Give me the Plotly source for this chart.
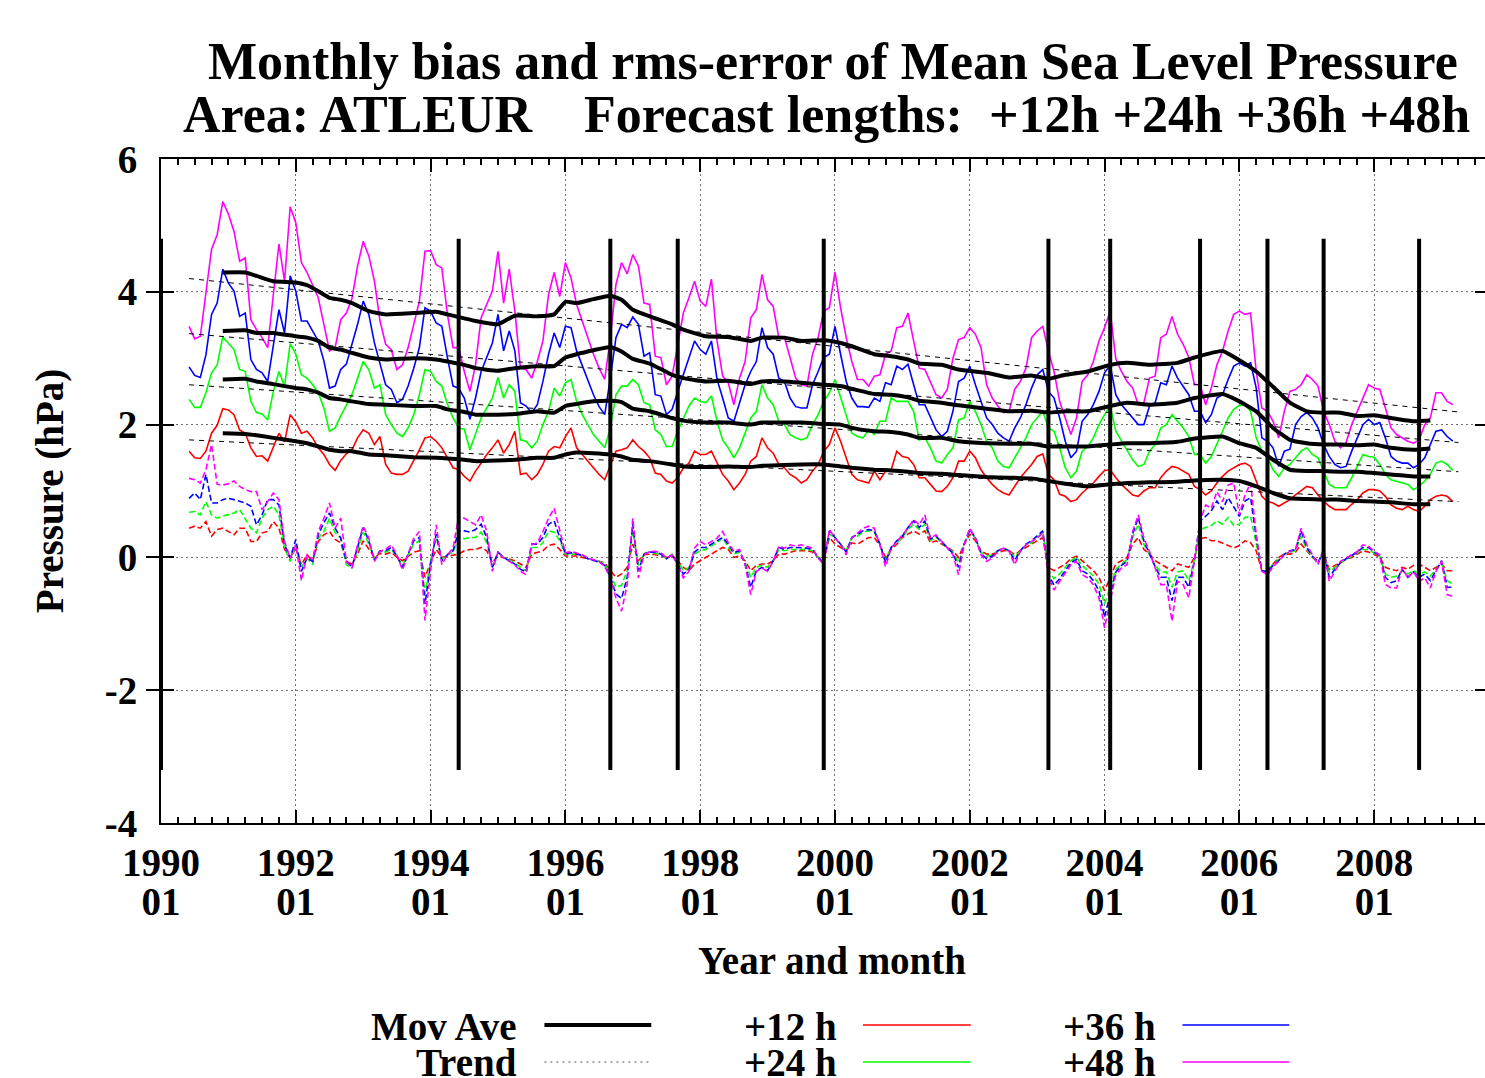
import plotly.graph_objects as go

# ---------------- data ----------------
FIRST_MONTH = "1990-06"   # first month of the monthly series

rms12 = [1.60, 1.50, 1.49, 1.60, 1.87, 1.99, 2.24, 2.22, 2.15, 1.92, 1.87, 1.65, 1.52, 1.53, 1.45, 1.65, 1.87, 1.74, 2.15, 2.04, 1.87, 1.90, 1.80, 1.65, 1.55, 1.40, 1.31, 1.46, 1.56, 1.62,
         1.80, 1.92, 1.87, 1.70, 1.82, 1.40, 1.27, 1.25, 1.25, 1.30, 1.45, 1.62, 1.80, 1.82, 1.75, 1.65, 1.50, 1.35, 1.32, 1.22, 1.15, 1.30, 1.42, 1.55, 1.65, 1.77, 1.57, 1.70, 1.90, 1.25, 1.27, 1.17, 1.25, 1.40,
         1.60, 1.67, 1.65, 1.82, 1.95, 1.65, 1.55, 1.45, 1.35, 1.25, 1.17, 1.40, 1.60, 1.62, 1.65, 1.77, 1.67, 1.60, 1.50, 1.27, 1.25, 1.15, 1.12, 1.20, 1.35, 1.42, 1.60, 1.55, 1.55, 1.60, 1.42, 1.25, 1.15,
         1.02, 1.12, 1.25, 1.45, 1.52, 1.80, 1.65, 1.57, 1.40, 1.35, 1.25, 1.20, 1.12, 1.17, 1.30, 1.40, 1.60, 1.70, 1.95, 1.75, 1.50, 1.25, 1.17, 1.15, 1.12, 1.30, 1.17, 1.30, 1.32, 1.60, 1.52, 1.50, 1.40, 1.20,
         1.20, 1.10, 1.00, 0.99, 1.07, 1.20, 1.45, 1.45, 1.60, 1.50, 1.32, 1.20, 1.10, 1.02, 0.97, 0.94, 1.07, 1.20, 1.30, 1.40, 1.52, 1.56, 1.25, 1.17, 0.95, 0.92, 0.84, 0.87, 0.97, 1.04, 1.12, 1.22, 1.31, 1.32,
         1.20, 1.10, 1.02, 0.94, 0.92, 1.00, 1.05, 1.05, 1.20, 1.30, 1.37, 1.35, 1.30, 1.25, 1.07, 1.02, 0.94, 1.00, 1.12, 1.22, 1.30, 1.35, 1.40, 1.42, 1.37, 1.15, 0.92, 0.84, 0.82, 0.77, 0.82, 0.87, 0.94, 1.00,
         1.07, 1.05, 0.94, 0.85, 0.77, 0.72, 0.72, 0.72, 0.80, 0.87, 0.97, 1.02, 1.02, 1.00, 0.92, 0.79, 0.74, 0.72, 0.77, 0.72, 0.69, 0.77, 0.87, 0.92, 0.94, 0.92, 0.84]

rms24 = [2.38, 2.26, 2.26, 2.48, 2.78, 2.90, 3.32, 3.22, 3.13, 2.83, 2.80, 2.35, 2.18, 2.16, 2.07, 2.50, 2.80, 2.58, 3.22, 3.06, 2.75, 2.70, 2.60, 2.48, 2.25, 1.90, 1.95, 2.13, 2.28, 2.45,
         2.70, 2.95, 2.83, 2.55, 2.60, 2.15, 2.00, 1.87, 1.82, 1.95, 2.15, 2.45, 2.83, 2.80, 2.65, 2.58, 2.31, 2.10, 1.95, 1.93, 1.62, 1.85, 2.10, 2.25, 2.40, 2.71, 2.40, 2.60, 2.50, 1.77, 1.75, 1.65, 1.75, 2.00,
         2.20, 2.55, 2.43, 2.63, 2.68, 2.35, 2.15, 2.00, 1.85, 1.75, 1.65, 1.95, 2.45, 2.58, 2.58, 2.68, 2.60, 2.33, 2.30, 1.92, 1.85, 1.67, 1.67, 1.90, 2.10, 2.28, 2.40, 2.35, 2.33, 2.43, 2.05, 1.77, 1.65,
         1.50, 1.65, 1.87, 2.10, 2.20, 2.60, 2.40, 2.30, 2.05, 2.00, 1.85, 1.80, 1.77, 1.80, 2.00, 2.15, 2.35, 2.48, 2.68, 2.40, 2.15, 1.87, 1.82, 1.80, 1.92, 1.85, 2.05, 2.05, 2.40, 2.35, 2.35, 2.35, 2.20, 1.77,
         1.80, 1.65, 1.45, 1.42, 1.55, 1.65, 2.07, 2.10, 2.35, 2.20, 2.00, 1.75, 1.65, 1.45, 1.37, 1.35, 1.50, 1.65, 1.80, 2.00, 2.10, 2.20, 1.95, 1.90, 1.65, 1.35, 1.20, 1.30, 1.60, 1.67, 1.80, 2.00, 2.15, 2.28,
         1.90, 1.75, 1.60, 1.47, 1.37, 1.40, 1.60, 1.70, 1.95, 2.00, 2.15, 2.05, 1.95, 1.82, 1.55, 1.55, 1.42, 1.52, 1.70, 1.90, 2.10, 2.23, 2.29, 2.30, 2.20, 1.80, 1.60, 1.50, 1.32, 1.22, 1.35, 1.40, 1.50, 1.60,
         1.65, 1.55, 1.50, 1.30, 1.10, 1.05, 1.05, 1.05, 1.20, 1.37, 1.55, 1.52, 1.51, 1.40, 1.25, 1.17, 1.15, 1.12, 1.10, 1.02, 1.07, 1.15, 1.25, 1.42, 1.45, 1.40, 1.31]

rms36 = [2.87, 2.74, 2.71, 3.05, 3.66, 3.83, 4.34, 4.13, 4.01, 3.63, 3.68, 2.98, 2.83, 2.78, 2.65, 3.21, 3.73, 3.38, 4.24, 4.01, 3.56, 3.56, 3.41, 3.26, 2.96, 2.55, 2.58, 2.83, 2.91, 3.20,
         3.51, 3.86, 3.66, 3.23, 2.90, 2.60, 2.53, 2.33, 2.38, 2.58, 2.85, 3.16, 3.76, 3.71, 3.53, 3.48, 3.01, 2.58, 2.55, 2.40, 2.08, 2.40, 2.80, 3.03, 3.23, 3.66, 3.11, 3.41, 3.11, 2.33, 2.28, 2.18, 2.30, 2.65,
         3.06, 3.38, 3.16, 3.48, 3.46, 3.11, 2.88, 2.65, 2.45, 2.27, 2.15, 2.70, 3.31, 3.51, 3.46, 3.62, 3.51, 3.03, 3.08, 2.45, 2.43, 2.15, 2.23, 2.50, 2.75, 3.03, 3.26, 3.13, 3.06, 3.26, 2.68, 2.40, 2.10,
         2.05, 2.33, 2.60, 2.80, 2.95, 3.46, 3.16, 3.06, 2.70, 2.65, 2.40, 2.27, 2.25, 2.25, 2.60, 2.80, 3.01, 3.06, 3.48, 3.06, 2.65, 2.40, 2.27, 2.27, 2.26, 2.40, 2.35, 2.63, 2.60, 2.88, 2.83, 2.91, 2.60, 2.30,
         2.30, 2.10, 1.92, 1.82, 1.90, 2.20, 2.65, 2.70, 2.88, 2.60, 2.35, 2.10, 2.00, 1.87, 1.80, 1.75, 1.95, 2.10, 2.30, 2.55, 2.75, 2.83, 2.50, 2.40, 2.10, 1.75, 1.50, 1.60, 2.05, 2.15, 2.30, 2.50, 2.78, 2.90,
         2.45, 2.30, 2.20, 2.10, 2.00, 2.00, 2.28, 2.33, 2.63, 2.60, 2.88, 2.70, 2.58, 2.45, 2.20, 2.20, 2.03, 2.15, 2.40, 2.45, 2.68, 2.88, 2.93, 2.88, 2.93, 2.55, 1.80, 1.75, 1.65, 1.37, 1.60, 1.63, 2.00, 2.12,
         2.18, 2.10, 1.95, 1.70, 1.52, 1.40, 1.35, 1.37, 1.60, 1.80, 2.00, 2.08, 2.00, 2.03, 1.80, 1.52, 1.45, 1.42, 1.42, 1.35, 1.40, 1.50, 1.70, 1.90, 1.92, 1.82, 1.75]

rms48 = [3.48, 3.29, 3.33, 4.01, 4.64, 4.86, 5.36, 5.17, 4.91, 4.46, 4.51, 3.58, 3.43, 3.31, 3.16, 3.96, 4.72, 4.16, 5.28, 5.04, 4.44, 4.29, 4.11, 3.91, 3.51, 3.11, 3.16, 3.58, 3.68, 3.90,
         4.39, 4.76, 4.54, 4.16, 3.56, 3.21, 3.13, 2.83, 2.90, 3.16, 3.51, 3.86, 4.61, 4.62, 4.41, 4.36, 3.66, 3.16, 3.16, 2.80, 2.50, 2.90, 3.61, 3.81, 4.01, 4.61, 3.83, 4.34, 3.71, 2.85, 2.83, 2.70, 2.95, 3.26,
         3.96, 4.29, 3.93, 4.44, 4.21, 3.81, 3.56, 3.31, 3.06, 2.85, 2.68, 3.30, 4.11, 4.44, 4.27, 4.56, 4.39, 3.83, 3.81, 3.03, 3.01, 2.60, 2.73, 3.20, 3.68, 3.91, 4.16, 3.86, 3.78, 4.19, 3.26, 2.73, 2.63,
         2.30, 2.70, 2.95, 3.61, 3.73, 4.26, 3.88, 3.78, 3.31, 3.31, 3.01, 2.70, 2.60, 2.58, 3.06, 3.31, 3.71, 3.76, 4.30, 3.76, 3.31, 2.95, 2.68, 2.68, 2.58, 2.73, 2.75, 3.06, 3.11, 3.46, 3.48, 3.68, 3.26, 2.85,
         2.83, 2.63, 2.45, 2.40, 2.53, 3.00, 3.28, 3.31, 3.46, 3.36, 3.16, 2.60, 2.40, 2.28, 2.18, 2.20, 2.53, 2.65, 2.85, 3.31, 3.41, 3.48, 3.11, 2.80, 2.35, 2.10, 1.85, 2.10, 2.65, 2.75, 2.95, 3.26, 3.46, 3.71,
         2.99, 2.80, 2.65, 2.55, 2.30, 2.33, 2.70, 2.73, 3.31, 3.36, 3.63, 3.36, 3.21, 3.01, 2.60, 2.60, 2.30, 2.55, 2.90, 3.11, 3.41, 3.66, 3.71, 3.66, 3.68, 2.80, 2.25, 2.20, 2.05, 1.80, 2.20, 2.50, 2.53, 2.60,
         2.75, 2.68, 2.58, 2.20, 2.00, 1.75, 1.65, 1.73, 2.00, 2.20, 2.40, 2.60, 2.55, 2.53, 2.25, 1.95, 1.85, 1.80, 1.75, 1.72, 1.77, 2.00, 2.10, 2.48, 2.48, 2.35, 2.30]

bias12 = [0.44, 0.47, 0.44, 0.54, 0.32, 0.42, 0.44, 0.39, 0.34, 0.44, 0.44, 0.24, 0.24, 0.37, 0.39, 0.54, 0.44, 0.12, -0.01, 0.14, -0.11, 0.04, -0.06, 0.24, 0.34, 0.39, 0.27, 0.22, -0.06, -0.10,
          0.05, 0.25, 0.12, 0.00, 0.06, 0.05, 0.08, 0.00, -0.05, 0.02, 0.08, 0.10, -0.30, -0.08, 0.12, 0.00, 0.02, 0.04, 0.05, 0.10, 0.12, 0.12, 0.15, 0.10, -0.08, 0.02, 0.00, -0.02, -0.05, -0.10, -0.15, 0.05, 0.08, 0.10,
          0.18, 0.20, 0.12, 0.02, 0.02, 0.02, 0.00, -0.02, -0.04, -0.05, -0.08, -0.20, -0.30, -0.25, -0.15, 0.20, -0.05, 0.04, 0.05, 0.04, 0.02, 0.00, 0.03, -0.05, -0.15, -0.20, -0.10, -0.05, 0.00, 0.05, 0.10, 0.15, 0.12,
          0.00, 0.02, -0.05, -0.20, -0.12, -0.10, -0.10, -0.05, 0.05, 0.05, 0.08, 0.10, 0.10, 0.10, 0.08, 0.00, -0.05, 0.30, 0.20, 0.15, 0.10, 0.22, 0.20, 0.25, 0.30, 0.30, 0.18, 0.00, 0.12, 0.20, 0.30, 0.35, 0.40, 0.35,
          0.40, 0.22, 0.25, 0.20, 0.15, 0.10, 0.00, 0.20, 0.35, 0.25, 0.10, 0.05, 0.05, 0.08, 0.10, 0.10, 0.04, 0.10, 0.15, 0.20, 0.25, 0.30, -0.15, -0.20, -0.15, -0.10, -0.02, 0.02, -0.05, -0.12, -0.20, -0.30, -0.50, -0.30,
          -0.10, -0.05, 0.00, 0.20, 0.30, 0.12, 0.05, -0.05, -0.10, -0.15, -0.20, -0.10, -0.12, -0.15, 0.00, 0.28, 0.30, 0.25, 0.25, 0.22, 0.18, 0.14, 0.18, 0.25, 0.22, 0.10, -0.20, -0.20, -0.10, 0.00, 0.05, 0.05, 0.08, 0.20,
          0.10, 0.00, -0.05, 0.05, -0.18, -0.12, -0.08, -0.03, 0.00, 0.05, 0.10, 0.08, 0.05, 0.00, -0.15, -0.18, -0.20, -0.15, -0.18, -0.12, -0.10, -0.15, -0.20, -0.15, -0.10, -0.20, -0.20]

bias24 = [0.68, 0.69, 0.64, 0.84, 0.64, 0.59, 0.62, 0.64, 0.67, 0.72, 0.59, 0.44, 0.37, 0.59, 0.72, 0.77, 0.64, 0.14, -0.06, 0.19, -0.16, -0.01, -0.11, 0.29, 0.39, 0.59, 0.37, 0.29, -0.11, -0.16,
          0.10, 0.38, 0.20, -0.02, 0.10, 0.08, 0.12, 0.02, -0.12, 0.04, 0.20, 0.25, -0.55, -0.05, 0.30, -0.03, 0.04, 0.08, 0.30, 0.28, 0.30, 0.30, 0.38, 0.22, -0.12, 0.06, 0.00, -0.04, -0.08, -0.15, -0.20, 0.15, 0.15, 0.22,
          0.40, 0.38, 0.25, 0.05, 0.05, 0.05, 0.03, -0.02, -0.04, -0.06, -0.10, -0.25, -0.45, -0.42, -0.20, 0.40, -0.12, 0.06, 0.08, 0.06, 0.04, -0.02, 0.05, -0.05, -0.20, -0.15, 0.05, 0.10, 0.12, 0.18, 0.22, 0.30, 0.15,
          0.05, 0.08, -0.08, -0.30, -0.15, -0.12, -0.15, -0.05, 0.12, 0.10, 0.12, 0.12, 0.13, 0.12, 0.10, 0.00, -0.05, 0.35, 0.30, 0.20, 0.10, 0.30, 0.32, 0.38, 0.40, 0.38, 0.20, -0.05, 0.15, 0.22, 0.30, 0.42, 0.50, 0.42,
          0.50, 0.26, 0.30, 0.22, 0.15, 0.08, -0.08, 0.20, 0.40, 0.28, 0.08, 0.02, 0.04, 0.10, 0.13, 0.10, 0.00, 0.10, 0.18, 0.22, 0.30, 0.38, -0.20, -0.32, -0.25, -0.15, -0.05, 0.00, -0.12, -0.20, -0.28, -0.40, -0.70, -0.45,
          -0.18, -0.10, -0.03, 0.30, 0.50, 0.20, 0.05, -0.12, -0.22, -0.22, -0.45, -0.22, -0.20, -0.35, -0.03, 0.42, 0.45, 0.48, 0.55, 0.50, 0.60, 0.48, 0.50, 0.60, 0.62, 0.20, -0.20, -0.20, -0.10, -0.03, 0.05, 0.08, 0.10, 0.32,
          0.12, 0.00, -0.08, 0.08, -0.22, -0.15, -0.08, -0.03, 0.02, 0.06, 0.12, 0.12, 0.06, 0.02, -0.25, -0.30, -0.28, -0.20, -0.25, -0.20, -0.25, -0.22, -0.28, -0.18, -0.08, -0.35, -0.40]

bias36 = [0.89, 0.97, 0.87, 1.25, 0.82, 0.82, 0.87, 0.89, 0.87, 0.84, 0.82, 0.77, 0.49, 0.64, 0.87, 0.87, 0.79, 0.19, -0.01, 0.27, -0.21, -0.01, -0.06, 0.34, 0.52, 0.67, 0.44, 0.29, -0.06, -0.14,
          0.15, 0.45, 0.25, -0.04, 0.10, 0.10, 0.15, 0.02, -0.15, 0.05, 0.25, 0.30, -0.70, -0.10, 0.35, -0.05, 0.04, 0.10, 0.40, 0.40, 0.38, 0.42, 0.50, 0.30, -0.15, 0.08, 0.00, -0.05, -0.10, -0.18, -0.22, 0.20, 0.20, 0.30,
          0.50, 0.55, 0.30, 0.05, 0.07, 0.05, 0.03, -0.02, -0.05, -0.07, -0.12, -0.30, -0.55, -0.62, -0.30, 0.50, -0.20, 0.05, 0.08, 0.08, 0.05, -0.02, 0.04, -0.10, -0.25, -0.18, 0.08, 0.15, 0.15, 0.20, 0.25, 0.30, 0.20,
          0.07, 0.10, -0.10, -0.45, -0.20, -0.15, -0.20, -0.05, 0.15, 0.12, 0.15, 0.15, 0.15, 0.14, 0.12, 0.00, -0.08, 0.40, 0.30, 0.20, 0.08, 0.30, 0.35, 0.40, 0.42, 0.40, 0.20, -0.08, 0.15, 0.25, 0.32, 0.45, 0.55, 0.45,
          0.55, 0.28, 0.32, 0.24, 0.15, 0.06, -0.15, 0.20, 0.42, 0.30, 0.06, -0.02, 0.02, 0.10, 0.14, 0.10, -0.05, 0.10, 0.20, 0.25, 0.32, 0.40, -0.25, -0.42, -0.32, -0.20, -0.08, -0.03, -0.20, -0.25, -0.35, -0.50, -0.90, -0.55,
          -0.22, -0.12, -0.06, 0.35, 0.60, 0.25, 0.06, -0.14, -0.30, -0.30, -0.65, -0.30, -0.30, -0.45, -0.05, 0.55, 0.62, 0.70, 0.85, 0.72, 0.90, 0.75, 0.62, 0.85, 0.90, 0.30, -0.20, -0.22, -0.12, -0.05, 0.05, 0.10, 0.12, 0.40,
          0.15, 0.02, -0.08, 0.10, -0.30, -0.18, -0.08, -0.02, 0.03, 0.08, 0.15, 0.15, 0.08, 0.03, -0.30, -0.38, -0.35, -0.18, -0.30, -0.22, -0.30, -0.25, -0.35, -0.20, -0.05, -0.45, -0.45]

bias48 = [1.19, 1.17, 1.12, 1.32, 1.70, 1.10, 1.09, 1.11, 1.15, 1.07, 1.02, 0.99, 0.99, 0.72, 0.84, 0.97, 0.87, 0.24, -0.01, 0.19, -0.35, 0.04, -0.04, 0.39, 0.59, 0.82, 0.44, 0.59, -0.06, -0.16,
          0.19, 0.47, 0.29, -0.06, 0.09, 0.12, 0.19, 0.04, -0.19, 0.04, 0.29, 0.39, -0.95, -0.20, 0.49, -0.11, 0.04, 0.14, 0.62, 0.59, 0.54, 0.49, 0.64, 0.39, -0.21, 0.09, -0.01, -0.06, -0.11, -0.21, -0.26, 0.19, 0.22, 0.39,
          0.59, 0.74, 0.39, 0.07, 0.09, 0.07, 0.04, -0.01, -0.04, -0.06, -0.14, -0.30, -0.61, -0.81, -0.41, 0.59, -0.31, 0.04, 0.09, 0.09, 0.07, -0.01, 0.04, -0.10, -0.31, -0.21, 0.14, 0.24, 0.19, 0.24, 0.29, 0.39, 0.22,
          0.09, 0.12, -0.11, -0.56, -0.21, -0.16, -0.21, -0.06, 0.17, 0.14, 0.19, 0.17, 0.19, 0.17, 0.14, -0.01, -0.11, 0.42, 0.29, 0.19, 0.04, 0.29, 0.37, 0.44, 0.47, 0.44, 0.19, -0.14, 0.14, 0.24, 0.34, 0.44, 0.57, 0.49,
          0.64, 0.29, 0.34, 0.24, 0.14, 0.04, -0.26, 0.19, 0.44, 0.29, 0.04, -0.06, -0.01, 0.09, 0.14, 0.09, -0.11, 0.09, 0.19, 0.24, 0.29, 0.37, -0.30, -0.49, -0.36, -0.24, -0.11, -0.06, -0.26, -0.31, -0.41, -0.61, -1.06, -0.66,
          -0.26, -0.16, -0.11, 0.39, 0.64, 0.29, 0.09, -0.16, -0.41, -0.41, -0.96, -0.36, -0.41, -0.61, -0.06, 0.54, 0.79, 0.74, 0.99, 0.84, 1.09, 1.12, 0.64, 0.94, 1.12, 0.34, -0.21, -0.26, -0.14, -0.06, 0.04, 0.09, 0.12, 0.44,
          0.19, 0.04, -0.11, 0.14, -0.36, -0.21, -0.06, -0.01, 0.04, 0.09, 0.19, 0.17, 0.09, 0.04, -0.41, -0.46, -0.46, -0.16, -0.31, -0.21, -0.36, -0.31, -0.46, -0.21, -0.06, -0.56, -0.59]

# 12-month moving averages (sampled along the curves), month index from 1990-01
ma_months = [11, 15, 17, 20, 24, 26, 28, 30, 32,
             34, 37, 40, 45, 49, 51, 54, 56, 60, 63,
             67, 70, 72, 74, 77, 80, 82, 84, 87, 91, 93, 97,
             101, 105, 107, 111, 114, 118, 121, 123, 127, 130, 133,
             135, 139, 142, 147, 151, 155, 158, 161, 165, 169,
             172, 176, 181, 184, 189, 192, 195, 198, 201,
             204, 207, 210, 213, 216, 219, 223, 226]
ma48 = [4.29, 4.29, 4.24, 4.16, 4.14, 4.10, 4.01, 3.91, 3.88,
        3.83, 3.71, 3.66, 3.68, 3.70, 3.66, 3.60, 3.56, 3.51, 3.64,
        3.63, 3.66, 3.85, 3.83, 3.89, 3.94, 3.88, 3.73, 3.63, 3.51, 3.43, 3.33,
        3.32, 3.26, 3.31, 3.31, 3.26, 3.27, 3.23, 3.18, 3.06, 3.03, 2.98,
        2.92, 2.90, 2.83, 2.78, 2.71, 2.74, 2.69, 2.75, 2.80, 2.90,
        2.93, 2.90, 2.93, 3.01, 3.11, 2.97, 2.80, 2.57, 2.33,
        2.20, 2.18, 2.18, 2.13, 2.14, 2.10, 2.05, 2.06]
ma36 = [3.41, 3.42, 3.38, 3.38, 3.33, 3.31, 3.26, 3.16, 3.13,
        3.08, 3.01, 2.98, 3.00, 2.98, 2.95, 2.90, 2.85, 2.81, 2.85,
        2.88, 2.88, 3.01, 3.06, 3.12, 3.17, 3.10, 2.99, 2.92, 2.75, 2.70, 2.65,
        2.66, 2.61, 2.65, 2.65, 2.63, 2.60, 2.58, 2.54, 2.46, 2.45, 2.41,
        2.36, 2.33, 2.29, 2.24, 2.20, 2.21, 2.18, 2.20, 2.20, 2.28,
        2.33, 2.30, 2.33, 2.40, 2.46, 2.35, 2.20, 1.95, 1.77,
        1.72, 1.70, 1.70, 1.69, 1.70, 1.65, 1.62, 1.64]
ma24 = [2.68, 2.69, 2.65, 2.61, 2.55, 2.53, 2.48, 2.40, 2.38,
        2.35, 2.31, 2.30, 2.28, 2.28, 2.23, 2.19, 2.15, 2.15, 2.16,
        2.20, 2.18, 2.28, 2.31, 2.35, 2.36, 2.34, 2.24, 2.20, 2.10, 2.06, 2.03,
        2.03, 2.00, 2.03, 2.03, 2.03, 2.01, 2.00, 1.95, 1.90, 1.89, 1.85,
        1.80, 1.80, 1.75, 1.72, 1.71, 1.71, 1.67, 1.67, 1.67, 1.70,
        1.72, 1.72, 1.74, 1.79, 1.82, 1.72, 1.65, 1.47, 1.32,
        1.30, 1.30, 1.29, 1.29, 1.27, 1.25, 1.22, 1.22]
ma12 = [1.87, 1.86, 1.84, 1.80, 1.75, 1.72, 1.67, 1.62, 1.60,
        1.60, 1.55, 1.54, 1.51, 1.50, 1.49, 1.47, 1.45, 1.46, 1.47,
        1.50, 1.50, 1.55, 1.58, 1.57, 1.55, 1.52, 1.47, 1.45, 1.40, 1.37, 1.36,
        1.37, 1.36, 1.38, 1.39, 1.40, 1.40, 1.37, 1.35, 1.32, 1.31, 1.29,
        1.27, 1.26, 1.24, 1.21, 1.20, 1.19, 1.15, 1.11, 1.07, 1.10,
        1.12, 1.13, 1.14, 1.16, 1.17, 1.15, 1.07, 0.97, 0.89,
        0.88, 0.87, 0.87, 0.85, 0.84, 0.83, 0.80, 0.80]

# linear trends (end points)
trend_months = [5, 231]
trend12 = [1.77, 0.84]
trend24 = [2.60, 1.29]
trend36 = [3.37, 1.73]
trend48 = [4.20, 2.19]

# model change dates (thick vertical bars)
change_dates = ["1990-01", "1994-06", "1996-09", "1997-09", "1999-11", "2003-03",
                "2004-02", "2005-06", "2006-06", "2007-04", "2008-09"]

tick_years = ["1990", "1992", "1994", "1996", "1998", "2000", "2002", "2004", "2006", "2008"]
tick_month = "01"

series_labels = ["+12 h", "+24 h", "+36 h", "+48 h"]
series_colors = ["#ff0000", "#00ff00", "#0000ff", "#ff00ff"]

# ---------------- helpers ----------------
def month_index(ym):
    y, m = ym.split("-")
    return (int(y) - 1990) * 12 + int(m) - 1

start = month_index(FIRST_MONTH)
for s in (rms12, rms24, rms36, rms48, bias12, bias24, bias36, bias48):
    assert len(s) == 226, [len(t) for t in (rms12, rms24, rms36, rms48, bias12, bias24, bias36, bias48)]
for s in (ma12, ma24, ma36, ma48):
    assert len(s) == len(ma_months)

FONT = "Liberation Serif"
FS = 39

# geometry: plot area from x=161 px (1990-01) with 5.625 px per month; the right frame
# edge lies just outside the visible page, as in the reference
W, H = 1492, 1078
L, R, T, B = 161, 2, 159, 255
PW = W - L - R
PH = H - T - B
XR = [0, PW / 5.625]

fig = go.Figure()

rms_all = [rms12, rms24, rms36, rms48]
bias_all = [bias12, bias24, bias36, bias48]
for lab, col, rms, bias in zip(series_labels, series_colors, rms_all, bias_all):
    xs = list(range(start, start + len(rms)))
    fig.add_trace(go.Scatter(x=xs, y=rms, mode="lines", name=lab,
                             line=dict(color=col, width=1.6)))
    xb = list(range(start, start + len(bias)))
    fig.add_trace(go.Scatter(x=xb, y=bias, mode="lines", name=lab + " bias",
                             line=dict(color=col, width=1.6, dash="6px,3px")))

for ma in (ma12, ma24, ma36, ma48):
    fig.add_trace(go.Scatter(x=ma_months, y=ma, mode="lines", name="Mov Ave",
                             line=dict(color="black", width=4, shape="spline", smoothing=0.4)))

for tr in (trend12, trend24, trend36, trend48):
    fig.add_trace(go.Scatter(x=trend_months, y=tr, mode="lines", name="Trend", xaxis="x2",
                             line=dict(color="black", width=1, dash="5px,5px")))

# vertical model-change bars
shapes = []
for d in change_dates:
    xi = month_index(d)
    shapes.append(dict(type="line", xref="x", yref="y", x0=xi, x1=xi, y0=-3.2, y1=4.8,
                       line=dict(color="black", width=4), layer="above"))

# ---------------- manual legend (text left of the sample, gnuplot style) ----------------
def px_x(p):
    return (p - L) / PW

def px_y(p):
    return (T + PH - p) / PH

legend_rows = [
    [("Mov Ave", dict(color="black", width=4)), ("+12 h", dict(color=series_colors[0], width=1.6)),
     ("+36 h", dict(color=series_colors[2], width=1.6))],
    [("Trend", dict(color="#555555", width=1, dash="2px,4px")), ("+24 h", dict(color=series_colors[1], width=1.6)),
     ("+48 h", dict(color=series_colors[3], width=1.6))],
]
col_text_right = [520, 840, 1160]
col_line = [(545, 652), (864, 972), (1184, 1291)]
row_text_y = [1026, 1062]
row_line_y = [1025, 1062]

annotations = []
for r, row in enumerate(legend_rows):
    for c, (txt, ln) in enumerate(row):
        annotations.append(dict(text=txt, xref="paper", yref="paper", x=px_x(col_text_right[c]),
                                y=px_y(row_text_y[r]), xanchor="right", yanchor="middle",
                                showarrow=False, font=dict(family=FONT, size=FS, color="black", weight="bold")))
        shapes.append(dict(type="line", xref="paper", yref="paper",
                           x0=px_x(col_line[c][0]), x1=px_x(col_line[c][1]),
                           y0=px_y(row_line_y[r]), y1=px_y(row_line_y[r]), line=ln))

# titles
title1 = "Monthly bias and rms-error of Mean Sea Level Pressure"
title2 = ("Area: ATLEUR" + "\u00a0" * 4 + "Forecast lengths:" + "\u00a0" * 2 + "+12h +24h +36h +48h")
annotations.append(dict(text=title1, xref="paper", yref="paper", x=px_x(834), y=px_y(62),
                        xanchor="center", yanchor="middle", showarrow=False,
                        font=dict(family=FONT, size=52, color="black", weight="bold")))
annotations.append(dict(text=title2, xref="paper", yref="paper", x=px_x(828), y=px_y(114),
                        xanchor="center", yanchor="middle", showarrow=False,
                        font=dict(family=FONT, size=52, color="black", weight="bold")))
# axis titles
annotations.append(dict(text="Year and month", xref="paper", yref="paper", x=px_x(833), y=px_y(960),
                        xanchor="center", yanchor="middle", showarrow=False,
                        font=dict(family=FONT, size=FS, color="black", weight="bold")))
annotations.append(dict(text="Pressure (hPa)", xref="paper", yref="paper", x=px_x(50), y=px_y(491),
                        xanchor="center", yanchor="middle", showarrow=False, textangle=-90,
                        font=dict(family=FONT, size=FS, color="black", weight="bold")))

tickvals = [month_index(y + "-01") for y in tick_years]
tickfont = dict(family=FONT, size=FS, color="black", weight="bold")

fig.update_layout(
    width=W, height=H,
    margin=dict(l=L, r=R, t=T, b=B, pad=0),
    paper_bgcolor="white", plot_bgcolor="white",
    showlegend=False,
    font=dict(family=FONT, size=FS, color="black", weight="bold"),
    shapes=shapes, annotations=annotations,
    xaxis=dict(range=XR, tickmode="array", tickvals=tickvals, ticktext=tick_years,
               ticks="inside", ticklen=13, tickwidth=2, tickcolor="black",
               showline=True, linewidth=2, linecolor="black", mirror="allticks",
               showgrid=True, gridcolor="#707070", gridwidth=1, griddash="2px,3px",
               zeroline=False, tickfont=tickfont, ticklabelstandoff=4,
               minor=dict(tick0=0, dtick=3, ticks="inside", ticklen=6, tickwidth=1.5,
                          tickcolor="black", showgrid=False)),
    xaxis2=dict(range=XR, overlaying="x", anchor="y", side="bottom",
                tickmode="array", tickvals=tickvals, ticktext=[tick_month] * len(tickvals),
                ticks="", showline=False, showgrid=False, zeroline=False,
                tickfont=tickfont, ticklabelstandoff=52),
    yaxis=dict(range=[-4, 6], tickmode="array", tickvals=[-4, -2, 0, 2, 4, 6],
               ticktext=["-4", "-2", "0", "2", "4", "6"],
               ticks="inside", ticklen=13, tickwidth=2, tickcolor="black",
               showline=True, linewidth=2, linecolor="black", mirror="allticks",
               showgrid=True, gridcolor="#707070", gridwidth=1, griddash="2px,3px",
               zeroline=False, tickfont=tickfont, ticklabelstandoff=14),
)

fig.write_html("out.html", config={"displayModeBar": False},
               post_script="document.body.style.margin='0';document.body.style.overflow='hidden';")
